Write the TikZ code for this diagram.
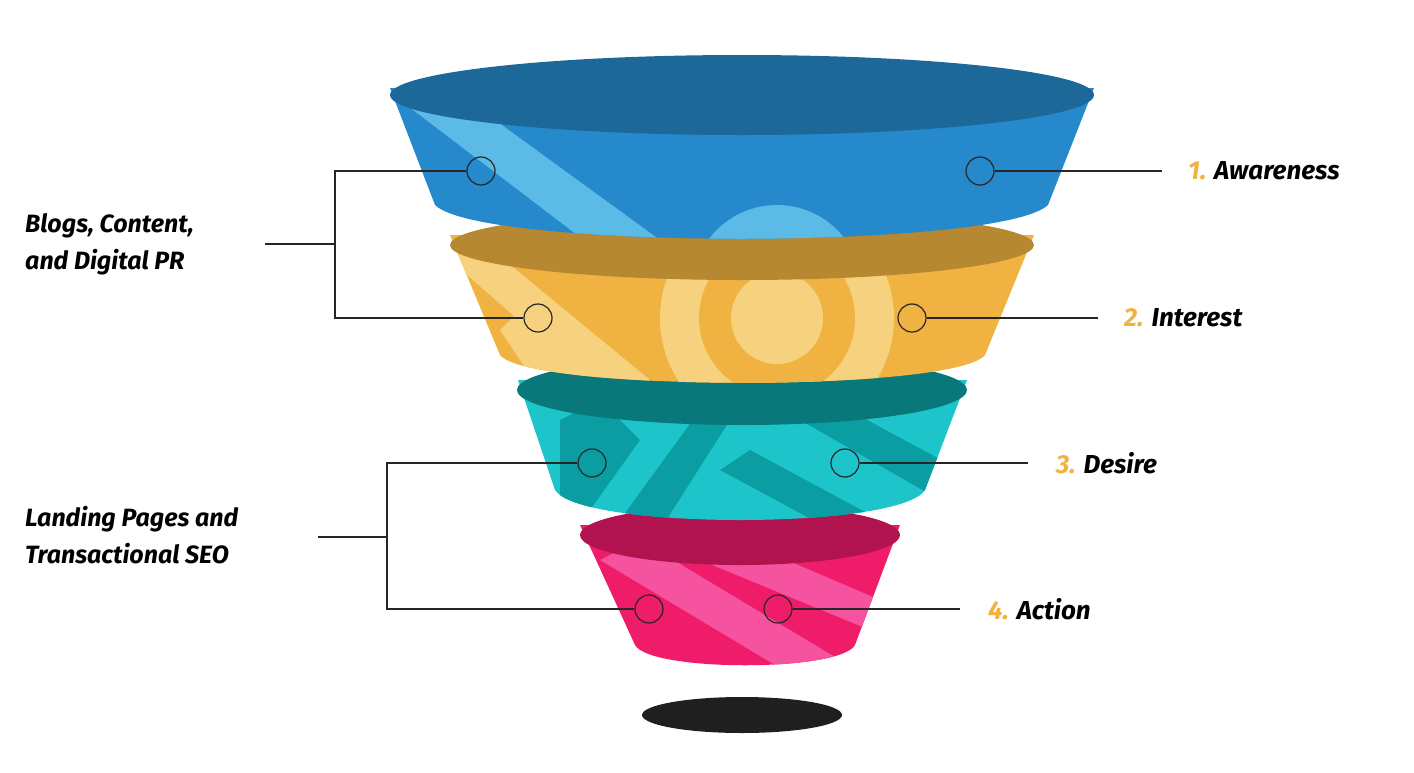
\documentclass[tikz,border=0pt]{standalone}
\usepackage{fontspec}
\setmainfont{Fira Sans}
\usetikzlibrary{positioning}
\definecolor{blueTop}{HTML}{1C6898}
\definecolor{blueBody}{HTML}{2589CC}
\definecolor{blueLight}{HTML}{5CBBE6}
\definecolor{goldTop}{HTML}{B58831}
\definecolor{goldBody}{HTML}{F0B240}
\definecolor{goldLight}{HTML}{F7D27E}
\definecolor{tealTop}{HTML}{08787A}
\definecolor{tealBody}{HTML}{1DC5CA}
\definecolor{tealDark}{HTML}{0A9EA3}
\definecolor{pinkTop}{HTML}{B0134E}
\definecolor{pinkBody}{HTML}{EF1C6A}
\definecolor{pinkLight}{HTML}{F553A0}
\definecolor{numOrange}{HTML}{F0B240}
\tikzset{
  marker/.style={circle, draw=black!85, line width=1.2pt, minimum size=28pt, inner sep=0pt},
  link/.style={draw=black!85, line width=1.2pt},
  stage/.style={anchor=west, font=\fontsize{26}{30}\selectfont\bfseries\itshape, inner sep=0pt},
  group/.style={anchor=west, align=left, font=\fontsize{25}{37}\selectfont\bfseries\itshape, inner sep=0pt}
}
\begin{document}
\begin{tikzpicture}[x=1pt, y=-1pt]
  \useasboundingbox (0,0) rectangle (1414,772);
  % shadow
  \fill[black!88] (742,715) ellipse (100 and 18);
  % pink layer
  \begin{scope}
    \clip (580,525) -- (635,645) .. controls (650,672) and (840,672) .. (855,645) -- (900,525) -- cycle;
    \fill[pinkBody] (560,500) rectangle (920,680);
    \fill[pinkLight] (600,560) -- (640,540) -- (840,660) -- (800,680) -- cycle;
    \fill[pinkLight] (700,560) -- (740,540) -- (880,600) -- (870,630) -- cycle;
  \end{scope}
  \fill[pinkTop] (740,535) ellipse (160 and 30);
  % teal layer
  \begin{scope}
    \clip (518,380) -- (555,490) .. controls (580,530) and (900,530) .. (925,490) -- (967,380) -- cycle;
    \fill[tealBody] (500,360) rectangle (980,540);
    \fill[tealDark] (560,420) -- (600,400) -- (640,440) -- (590,510) -- (560,500) -- cycle;
    \fill[tealDark] (620,520) -- (700,410) -- (730,420) -- (660,530) -- cycle;
    \fill[tealDark] (720,470) -- (750,450) -- (880,520) -- (850,540) -- cycle;
    \fill[tealDark] (800,420) -- (830,400) -- (960,470) -- (940,500) -- cycle;
  \end{scope}
  \fill[tealTop] (742,390) ellipse (225 and 35);
  % gold layer
  \begin{scope}
    \clip (450,235) -- (500,355) .. controls (530,392) and (955,392) .. (985,355) -- (1034,235) -- cycle;
    \fill[goldBody] (440,220) rectangle (1040,400);
    \fill[goldLight] (450,260) -- (480,240) -- (650,380) -- (610,400) -- cycle;
    \fill[goldLight] (500,330) -- (520,310) -- (590,380) -- (540,390) -- cycle;
    \fill[goldLight] (777,318) circle (117);
    \fill[goldBody] (777,318) circle (78);
    \fill[goldLight] (777,318) circle (46);
  \end{scope}
  \fill[goldTop] (742,245) ellipse (292 and 35);
  % blue layer
  \begin{scope}
    \clip (390,88) -- (435,205) .. controls (480,250) and (1000,250) .. (1048,205) -- (1094,88) -- cycle;
    \fill[blueBody] (380,60) rectangle (1100,260);
    \fill[blueLight] (400,100) -- (440,80) -- (660,240) -- (610,260) -- cycle;
    \fill[blueLight] (777,290) circle (85);
  \end{scope}
  \fill[blueTop] (742,95) ellipse (352 and 40);
  % markers
  \node[marker] (m1l) at (481,171) {};
  \node[marker] (m1r) at (980,171) {};
  \node[marker] (m2l) at (538,318) {};
  \node[marker] (m2r) at (912,318) {};
  \node[marker] (m3l) at (592,463) {};
  \node[marker] (m3r) at (845,463) {};
  \node[marker] (m4l) at (649,609) {};
  \node[marker] (m4r) at (778,609) {};
  % stage labels
  \node[stage] (s1) at (1188,171) {\textcolor{numOrange}{1.} Awareness};
  \node[stage] (s2) at (1124,318) {\textcolor{numOrange}{2.} Interest};
  \node[stage] (s3) at (1056,463) {\textcolor{numOrange}{3.} Desire};
  \node[stage] (s4) at (988,609) {\textcolor{numOrange}{4.} Action};
  \draw[link] (m1r) -- (1162,171);
  \draw[link] (m2r) -- (1098,318);
  \draw[link] (m3r) -- (1028,463);
  \draw[link] (m4r) -- (960,609);
  % group labels
  \node[group] (g1) at (25,244) {Blogs, Content,\\and Digital PR};
  \node[group] (g2) at (25,535) {Landing Pages and\\Transactional SEO};
  \coordinate (b1) at (335,244);
  \coordinate (b2) at (387,537);
  \draw[link] (m1l) -| (b1) |- (m2l);
  \draw[link] (b1) -- (265,244);
  \draw[link] (m3l) -| (b2) |- (m4l);
  \draw[link] (b2) -- (318,537);
\end{tikzpicture}
\end{document}
